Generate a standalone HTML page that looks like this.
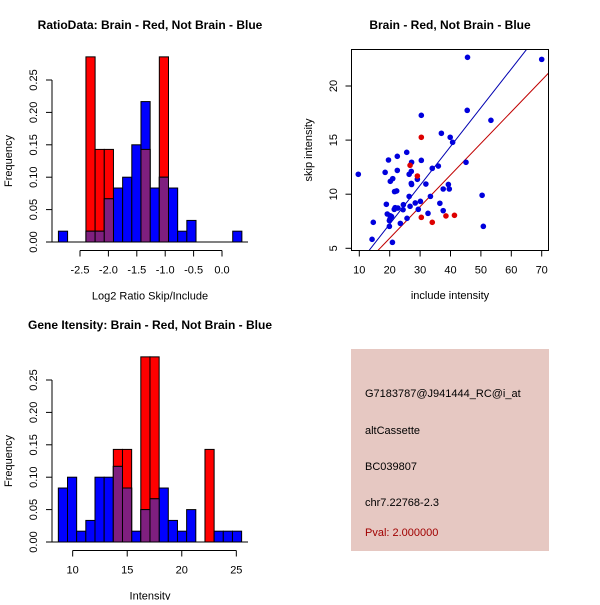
<!DOCTYPE html>
<html><head><meta charset="utf-8"><style>
body{margin:0;background:#fff}
svg text{font-family:"Liberation Sans",Arial,sans-serif}
</style></head><body>
<svg id="s" width="600" height="600" xmlns="http://www.w3.org/2000/svg">
<rect width="600" height="600" fill="#fff"/>
<g id="h1"></g>
<g id="h2"></g>
<g id="sc"></g>
<g>
<rect x="351" y="349" width="198" height="202" fill="#e6c8c2"/>
<text x="365" y="397" font-size="11">G7183787@J941444_RC@i_at</text>
<text x="365" y="434" font-size="11">altCassette</text>
<text x="365" y="470" font-size="11">BC039807</text>
<text x="365" y="506" font-size="11">chr7.22768-2.3</text>
<text x="365" y="536" font-size="11" fill="#a00000">Pval: 2.000000</text>
</g>
</svg>
<script>
// Histogram 1 data
const h1Start = -2.88, h1Width = 0.1615;
const h1Blue = [0.0167,0,0,0.0167,0.0167,0.0667,0.0833,0.1,0.15,0.2167,0.0833,0.1,0.0833,0.0167,0.0333,0,0,0,0,0.0167];
const h1Red  = [0,0,0,0.2857,0.1429,0.1429,0,0,0,0.1429,0,0.2857,0,0,0,0,0,0,0,0];
const h1XTicks = [-2.5,-2.0,-1.5,-1.0,-0.5,0.0];
const h1XLabels = ["-2.5","-2.0","-1.5","-1.0","-0.5","0.0"];
// Histogram 2 data
const h2Start = 8.686, h2Width = 0.840;
const h2Blue = [0.0833,0.1,0.0167,0.0333,0.1,0.1,0.1167,0.0833,0.0167,0.05,0.0667,0.0833,0.0333,0.0167,0.05,0,0,0.0167,0.0167,0.0167];
const h2Red  = [0,0,0,0,0,0,0.1429,0.1429,0,0.2857,0.2857,0,0,0,0,0,0.1429,0,0,0];
const h2XTicks = [10,15,20,25];
const h2XLabels = ["10","15","20","25"];
const yTicks = [0,0.05,0.10,0.15,0.20,0.25];
const yLabels = ["0.00","0.05","0.10","0.15","0.20","0.25"];
// Scatter data
const blueX = [9.67,45.6,70,45.5,53.3,30.4,37.0,39.9,40.7,25.6,19.6,22.5,27.2,30.4,18.5,22.5,27.1,26.4,36.0,34.0,45.1,29.1,31.9,21.0,20.2,27.1,27.2,39.3,37.6,39.6,21.6,22.3,26.4,33.4,50.4,18.9,24.5,26.7,28.4,30.1,36.5,21.8,22.7,24.4,21.5,37.6,32.6,29.4,19.2,20.2,20.6,20.1,19.9,25.7,14.6,23.5,19.9,50.8,14.2,20.9];
const blueY = [11.84,22.65,22.46,17.75,16.83,17.29,15.63,15.26,14.80,13.87,13.16,13.5,12.95,13.13,12.02,12.2,12.11,11.84,12.6,12.39,12.95,11.38,10.94,11.44,11.19,11.0,10.9,10.9,10.48,10.48,10.24,10.3,9.8,9.8,9.9,9.07,9.03,8.88,9.19,9.34,9.16,8.76,8.72,8.57,8.6,8.48,8.23,8.6,8.17,8.0,7.93,7.71,7.56,7.77,7.4,7.3,7.03,7.03,5.83,5.55];
const redX = [26.7,30.4,29.1,30.4,34.0,38.5,41.3];
const redY = [12.67,15.26,11.68,7.86,7.4,7.99,8.05];
const fitSlope = [0.3586,0.292];
const fitIntercept = [0.063,0.094];
const scXTicks = [10,20,30,40,50,60,70];
const scYTicks = [5,10,15,20];

const NS="http://www.w3.org/2000/svg";
function mk(parent,tag,attrs){const e=document.createElementNS(NS,tag);for(const k in attrs)e.setAttribute(k,attrs[k]);parent.appendChild(e);return e;}

function hist(gid,start,width,blue,red,xt,xl,x0v,x0p,pxPerUnit,yBase,title,xlab,tickLineY){
  const g=document.getElementById(gid);
  const X=v=>x0p+(v-x0v)*pxPerUnit;
  const Y=v=>yBase-v*648;
  for(let i=0;i<red.length;i++){ if(red[i]>0){const r=mk(g,'rect',{x:X(start+i*width),y:Y(red[i]),width:width*pxPerUnit,height:red[i]*648,fill:'#ff0000',stroke:'#000','stroke-width':1});
    
    }}
  for(let i=0;i<blue.length;i++){ if(blue[i]>0){const r=mk(g,'rect',{x:X(start+i*width),y:Y(blue[i]),width:width*pxPerUnit,height:blue[i]*648,fill:'#0000ff',stroke:'#000','stroke-width':1});
    
    }}
  for(let i=0;i<blue.length;i++){const m=Math.min(blue[i],red[i]); if(m>0){const r=mk(g,'rect',{x:X(start+i*width),y:Y(m),width:width*pxPerUnit,height:m*648,fill:'#7f1f7f',stroke:'#000','stroke-width':1});
    
    }}
  const ax=mk(g,'g',{});
  
  
  mk(ax,'line',{x1:52,x2:52,y1:Y(0),y2:Y(0.25),stroke:'#000'});
  yTicks.forEach((v,i)=>{mk(ax,'line',{x1:46,x2:52,y1:Y(v),y2:Y(v),stroke:'#000'});
    const t=mk(ax,'text',{x:0,y:0,'font-size':11,'text-anchor':'middle',transform:`translate(37,${Y(v)}) rotate(-90)`});t.textContent=yLabels[i];});
  const xa=mk(g,'g',{});
  
  
  mk(xa,'line',{x1:X(xt[0]),x2:X(xt[xt.length-1]),y1:tickLineY,y2:tickLineY,stroke:'#000'});
  xt.forEach((v,i)=>{mk(xa,'line',{x1:X(v),x2:X(v),y1:tickLineY,y2:tickLineY+6,stroke:'#000'});
    const t=mk(xa,'text',{x:X(v),y:tickLineY+23,'font-size':11,'text-anchor':'middle'});t.textContent=xl[i];});
  mk(g,'line',{x1:52,x2:248,y1:Y(0),y2:Y(0),stroke:'#000'});
  const tt=mk(g,'text',{x:150,y:Y(0)-213,'font-size':12,'font-weight':'bold','text-anchor':'middle'});tt.textContent=title;
  
  
  const xlb=mk(g,'text',{x:150,y:tickLineY+49,'font-size':11,'text-anchor':'middle'});xlb.textContent=xlab;
  
  
  const yl=mk(g,'text',{x:0,y:0,'font-size':11,'text-anchor':'middle',transform:`translate(12,${Y(0.125)}) rotate(-90)`});yl.textContent='Frequency';
  
  
}
hist('h1',h1Start,h1Width,h1Blue,h1Red,h1XTicks,h1XLabels,-2.5,80,56.8,242,'RatioData: Brain - Red, Not Brain - Blue','Log2 Ratio Skip/Include',250.5);
hist('h2',h2Start,h2Width,h2Blue,h2Red,h2XTicks,h2XLabels,10,72.67,10.91,542,'Gene Itensity: Brain - Red, Not Brain - Blue','Intensity',550.5);

(function(){
  const g=document.getElementById('sc');
  const X=v=>359.3+(v-10)*3.04;
  const Y=v=>248.3-(v-5)*10.82;
  const L=351.5,R=548.5,T=49.5,B=250.5;
  const cp=mk(g,'clipPath',{id:'cp'});mk(cp,'rect',{x:L,y:T,width:R-L,height:B-T});
  const cols=['#0000b0','#c00000'];
  fitSlope.forEach((s,i)=>{const x1=0,x2=80;const l=mk(g,'line',{x1:X(x1),y1:Y(fitIntercept[i]+s*x1),x2:X(x2),y2:Y(fitIntercept[i]+s*x2),stroke:cols[i],'stroke-width':1,'clip-path':'url(#cp)'});
    
    });
  blueX.forEach((v,i)=>{const c=mk(g,'circle',{cx:X(v),cy:Y(blueY[i]),r:2.8,fill:'#0000dd','clip-path':'url(#cp)'});
    
    });
  redX.forEach((v,i)=>{const c=mk(g,'circle',{cx:X(v),cy:Y(redY[i]),r:2.8,fill:'#dd0000','clip-path':'url(#cp)'});
    
    });
  const bx=mk(g,'rect',{x:L,y:T,width:R-L,height:B-T,fill:'none',stroke:'#000'});
  
  
  scXTicks.forEach(v=>{mk(g,'line',{x1:X(v),x2:X(v),y1:B,y2:B+6,stroke:'#000'});
    const t=mk(g,'text',{x:X(v),y:B+23,'font-size':11,'text-anchor':'middle'});t.textContent=String(v);
    
    });
  scYTicks.forEach(v=>{mk(g,'line',{x1:L-6,x2:L,y1:Y(v),y2:Y(v),stroke:'#000'});
    const t=mk(g,'text',{x:0,y:0,'font-size':11,'text-anchor':'middle',transform:`translate(337,${Y(v)}) rotate(-90)`});t.textContent=String(v);
    
    });
  const tt=mk(g,'text',{x:450,y:29,'font-size':12,'font-weight':'bold','text-anchor':'middle'});tt.textContent='Brain - Red, Not Brain - Blue';
  
  
  const xl=mk(g,'text',{x:450,y:299,'font-size':11,'text-anchor':'middle'});xl.textContent='include intensity';
  
  
  const yl=mk(g,'text',{x:0,y:0,'font-size':11,'text-anchor':'middle',transform:'translate(312,150) rotate(-90)'});yl.textContent='skip intensity';
  
  
})();
</script>
</body></html>
